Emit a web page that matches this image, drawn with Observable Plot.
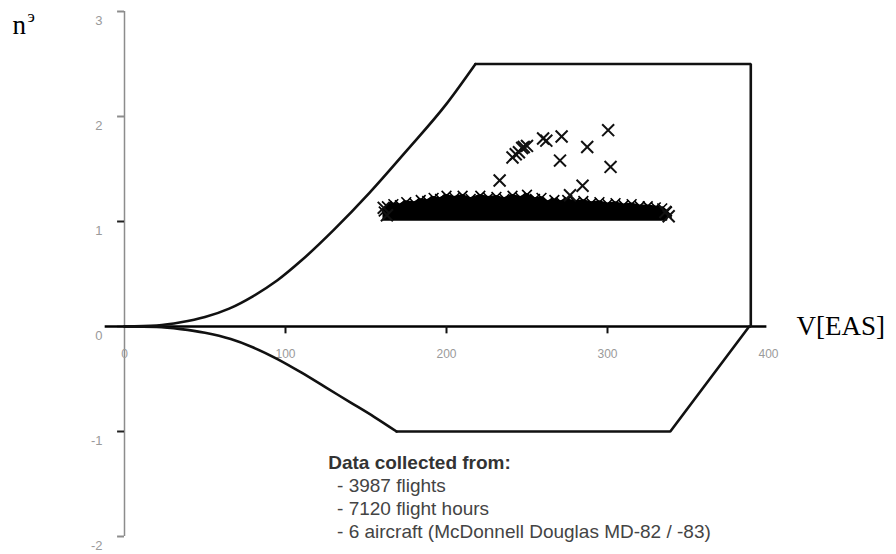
<!DOCTYPE html>
<html>
<head>
<meta charset="utf-8">
<script src="https://cdn.jsdelivr.net/npm/d3@7"></script>
<script src="https://cdn.jsdelivr.net/npm/@observablehq/plot@0.6"></script>
<style>
  html, body { margin: 0; padding: 0; background: #fff; }
  #chart { width: 896px; height: 554px; }
</style>
</head>
<body>
<div id="chart"></div>
<script>
// ---- data ----
const yTicks = [3, 2, 1, 0, -1, -2];
const xTicks = [0, 100, 200, 300, 400];
const xTickMarks = [100, 200, 300];

// positive stall boundary (upper curve)
const upperV = [0, 20, 35, 50, 65, 80, 95, 110, 130, 152, 175, 200, 218];
const upperN = [0, 0.01, 0.04, 0.09, 0.17, 0.29, 0.44, 0.63, 0.92, 1.27, 1.67, 2.12, 2.5];
// negative stall boundary (lower curve)
const lowerV = [0, 20, 35, 50, 66, 80, 95, 110, 125, 140, 155, 169];
const lowerN = [0, -0.005, -0.025, -0.06, -0.12, -0.2, -0.31, -0.44, -0.58, -0.72, -0.86, -1.0];
// straight parts of the envelope
const edgeV = [218, 389, 389, 388, 339, 169];
const edgeN = [2.5, 2.5, 0, 0, -1, -1];

// dense band of recorded points (top edge)
const bandV = [161,163,167,171,175,180,184,188,192,196,200,205,210,215,221,226,231,236,241,246,250,255,259,263,267,271,275,280,285,290,295,300,305,310,315,320,325,330,334,337];
const bandTop = [1.12,1.17,1.19,1.18,1.21,1.20,1.23,1.22,1.25,1.24,1.27,1.25,1.27,1.24,1.27,1.25,1.26,1.24,1.27,1.25,1.28,1.24,1.25,1.21,1.23,1.21,1.23,1.21,1.22,1.20,1.21,1.19,1.20,1.18,1.19,1.17,1.17,1.16,1.15,1.12];
const bandBottom = 1.01;

// individual outliers and edge crosses
const pointV = [233, 241, 243, 245, 247, 248, 250, 260, 262, 271.5, 270.5, 287.4, 300.4, 301.9, 284.5, 276.7, 161, 163, 336, 338];
const pointN = [1.39, 1.61, 1.64, 1.66, 1.70, 1.71, 1.72, 1.79, 1.77, 1.81, 1.58, 1.71, 1.87, 1.52, 1.34, 1.25, 1.13, 1.06, 1.09, 1.05];

const captionTitle = "Data collected from:";
const captionLines = ["- 3987 flights", "- 7120 flight hours", "- 6 aircraft (McDonnell Douglas MD-82 / -83)"];

// ---- build tables ----
const upper = upperV.map((v, i) => ({v, n: upperN[i]}));
const lower = lowerV.map((v, i) => ({v, n: lowerN[i]}));
const edge = edgeV.map((v, i) => ({v, n: edgeN[i]}));
const band = bandV.map((v, i) => ({v, top: bandTop[i]}));
const points = pointV.map((v, i) => ({v, n: pointN[i]}));

const sans = "'Liberation Sans', Arial, sans-serif";
const serif = "'Liberation Serif', 'Times New Roman', serif";

const chart = Plot.plot({
  width: 896,
  height: 554,
  marginLeft: 124,
  marginRight: 128,
  marginTop: 11,
  marginBottom: 18,
  x: {domain: [0, 400], axis: null},
  y: {domain: [-2, 3], axis: null},
  style: {background: "#fff", fontFamily: sans},
  marks: [
    // y axis
    Plot.ruleX([0], {y1: -2, y2: 3, stroke: "#8c8c8c", strokeWidth: 1.5}),
    Plot.ruleY(yTicks, {x1: -4.3, x2: 0, y: d => d, stroke: d => (d === 1 || d === -1) ? "#222" : "#8c8c8c", strokeWidth: 2}),
    Plot.text(yTicks, {x: 0, y: d => d, text: d => String(d), dx: -22, dy: 9, textAnchor: "end", fill: "#9a9a9a", fontSize: 13}),
    // x axis
    Plot.ruleY([0], {x1: -12, x2: 399, stroke: "#000", strokeWidth: 2.5}),
    Plot.ruleX(xTickMarks, {x: d => d, y1: 0, y2: -0.07, stroke: "#111", strokeWidth: 2}),
    Plot.text(xTicks, {x: d => d, y: 0, text: d => String(d), dy: 28, fill: "#9a9a9a", fontSize: 12}),
    // envelope
    Plot.line(upper, {x: "v", y: "n", curve: "monotone-x", stroke: "#111", strokeWidth: 2.6}),
    Plot.line(lower, {x: "v", y: "n", curve: "monotone-x", stroke: "#111", strokeWidth: 2.6}),
    Plot.line(edge, {x: "v", y: "n", stroke: "#111", strokeWidth: 2.6, strokeLinejoin: "miter"}),
    // dense band of measured points
    Plot.areaY(band, {x: "v", y1: bandBottom, y2: d => d.top - 0.02, fill: "#000", stroke: "#000", strokeWidth: 1.5}),
    Plot.dot(band, {x: "v", y: d => d.top - 0.025, symbol: "times", r: 4.5, stroke: "#000", strokeWidth: 1.6}),
    Plot.dot(points, {x: "v", y: "n", symbol: "times", r: 5.5, stroke: "#111", strokeWidth: 2}),
    // labels
    Plot.text(["n"], {frameAnchor: "top-left", dx: -112, dy: 3, textAnchor: "start", fontFamily: serif, fontSize: 27, fill: "#000"}),
    Plot.text(["э"], {frameAnchor: "top-left", dx: -97, dy: -2, textAnchor: "start", fontFamily: serif, fontSize: 17, fill: "#000"}),
    Plot.text(["V[EAS]"], {x: 400, y: 0, dx: 28, textAnchor: "start", fontFamily: serif, fontSize: 27, fill: "#000"}),
    Plot.text([captionTitle], {x: 126.5, y: -1.3, textAnchor: "start", fontWeight: "bold", fontSize: 19, fill: "#333"}),
    Plot.text([captionLines.join("\n")], {x: 132, y: -1.52, textAnchor: "start", lineHeight: 1.21, fontSize: 19, fill: "#444", lineAnchor: "top", dy: -10})
  ]
});
document.getElementById("chart").appendChild(chart);
</script>
</body>
</html>
